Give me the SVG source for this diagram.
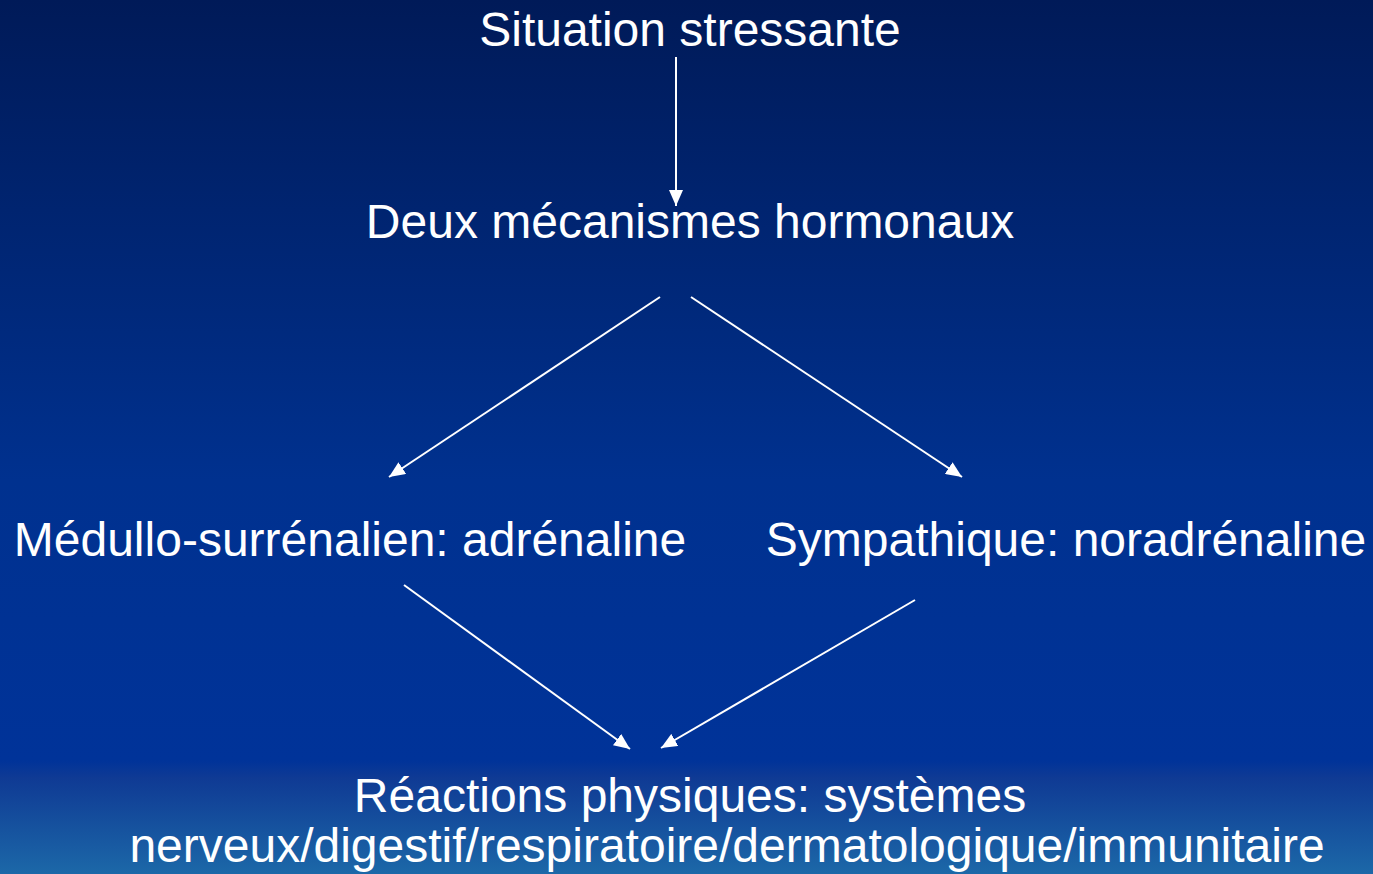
<svg xmlns="http://www.w3.org/2000/svg" width="1373" height="874" viewBox="0 0 1373 874">
<defs>
<linearGradient id="bg" x1="0" y1="0" x2="0" y2="1">
<stop offset="0" stop-color="#001a58"/>
<stop offset="0.55" stop-color="#00318f"/>
<stop offset="0.87" stop-color="#003399"/>
<stop offset="0.89" stop-color="#0f3a94"/>
<stop offset="1" stop-color="#1c68a8"/>
</linearGradient>
<marker id="ah" viewBox="0 0 16 14" refX="16" refY="7" markerWidth="16" markerHeight="14" markerUnits="userSpaceOnUse" orient="auto">
<path d="M0,0 L16,7 L0,14 Z" fill="#ffffff"/>
</marker>
<style>
text{font-family:"Liberation Sans",Arial,sans-serif;font-size:48px;fill:#ffffff;}
.c{stroke:#ffffff;stroke-width:2;fill:none;marker-end:url(#ah);}
</style>
</defs>
<rect x="0" y="0" width="1373" height="874" fill="url(#bg)"/>
<g id="connectors">
<line class="c" x1="676" y1="57" x2="676" y2="206"/>
<line class="c" x1="660" y1="297" x2="389" y2="477"/>
<line class="c" x1="691" y1="297" x2="962" y2="477"/>
<line class="c" x1="404" y1="585" x2="630" y2="749"/>
<line class="c" x1="915" y1="600" x2="661" y2="748"/>
</g>
<g id="n1"><text x="690" y="46" text-anchor="middle">Situation stressante</text></g>
<g id="n2"><text x="690" y="238" text-anchor="middle">Deux mécanismes hormonaux</text></g>
<g id="n3"><text x="350" y="556" text-anchor="middle">Médullo-surrénalien: adrénaline</text></g>
<g id="n4"><text x="1066" y="556" text-anchor="middle">Sympathique: noradrénaline</text></g>
<g id="n5"><text x="690" y="812" text-anchor="middle">Réactions physiques: systèmes</text><text x="727" y="862" text-anchor="middle">nerveux/digestif/respiratoire/dermatologique/immunitaire</text></g>
</svg>
